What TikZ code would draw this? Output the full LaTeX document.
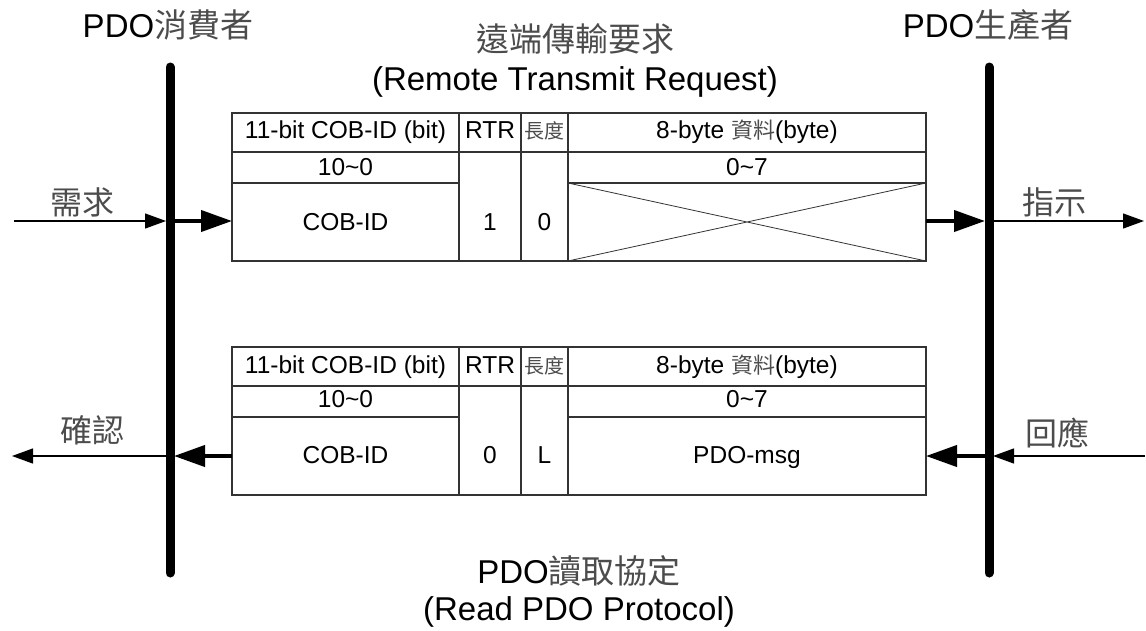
\documentclass[tikz,border=0pt]{standalone}
\usepackage{fontspec}
\setmainfont{Liberation Sans}
\newfontfamily\cjk{Noto Sans CJK TC}
\usetikzlibrary{arrows.meta}
\definecolor{cjkgray}{gray}{0.3}
\definecolor{linegray}{gray}{0.2}
\newcommand\cj[1]{{\cjk\color{cjkgray}#1}}
\newcommand\frametable{%
  \draw[tbl] (232,113) rectangle (926,261);
  \draw[tbl] (232,152) -- (926,152);
  \draw[tbl] (232,183) -- (459,183) (568,183) -- (926,183);
  \draw[tbl] (459,113) -- (459,261) (521,113) -- (521,261) (568,113) -- (568,261);
}
\begin{document}
\begin{tikzpicture}[x=1pt,y=-1pt,
  tbl/.style={draw=linegray, line width=1.3pt},
  lbl/.style={inner sep=0pt, anchor=base, font=\fontsize{24.5}{28}\selectfont},
  small/.style={inner sep=0pt, anchor=base, font=\fontsize{20}{23}\selectfont},
  title/.style={inner sep=0pt, anchor=base, font=\fontsize{33}{38}\selectfont},
  side/.style={inner sep=0pt, anchor=base, font=\fontsize{32}{36}\selectfont},
  bar/.style={line width=9pt, line cap=round},
  thickarrow/.style={line width=4pt, -{Triangle[length=31pt,width=21pt]}},
  thinarrow/.style={line width=1.2pt, -{Triangle[length=21pt,width=15pt]}}]
\useasboundingbox (0,0) rectangle (1146,630);

% bars
\coordinate (consTop) at (170,67);
\coordinate (consBot) at (170,573);
\coordinate (prodTop) at (989,67);
\coordinate (prodBot) at (989,573);
\draw[bar] (consTop) -- (consBot);
\draw[bar] (prodTop) -- (prodBot);

% titles
\node[title] (tcons) at (168,37) {PDO\cj{消費者}};
\node[title] (tprod) at (988,37) {PDO\cj{生產者}};
\node[title] (trtr) at (575,51) {\cj{遠端傳輸要求}};
\node[title] (trtren) at (575,90) {(Remote Transmit Request)};
\node[title] (tread) at (579,583) {PDO\cj{讀取協定}};
\node[title] (treaden) at (579,620) {(Read PDO Protocol)};

% table 1
\frametable
\draw[draw=linegray, line width=0.8pt] (568,183) -- (926,261) (568,261) -- (926,183);
\node[lbl] (a11) at (345.5,138) {11-bit COB-ID (bit)};
\node[lbl] (a12) at (490,138) {RTR};
\node[small] (a13) at (544.5,138) {\cj{長度}};
\node[lbl] (a14) at (747,138) {8-byte \cj{\fontsize{22}{25}\selectfont 資料}(byte)};
\node[lbl] (a21) at (345.5,175) {10\textasciitilde 0};
\node[lbl] (a24) at (747,175) {0\textasciitilde 7};
\node[lbl] (a31) at (345.5,230) {COB-ID};
\node[lbl] (a32) at (490,230) {1};
\node[lbl] (a33) at (544.5,230) {0};

% table 2
\begin{scope}[shift={(0,234)}]
\frametable
\end{scope}
\node[lbl] (b11) at (345.5,373) {11-bit COB-ID (bit)};
\node[lbl] (b12) at (490,373) {RTR};
\node[small] (b13) at (544.5,373) {\cj{長度}};
\node[lbl] (b14) at (747,373) {8-byte \cj{\fontsize{22}{25}\selectfont 資料}(byte)};
\node[lbl] (b21) at (345.5,407) {10\textasciitilde 0};
\node[lbl] (b24) at (747,407) {0\textasciitilde 7};
\node[lbl] (b31) at (345.5,463) {COB-ID};
\node[lbl] (b32) at (490,463) {0};
\node[lbl] (b33) at (544.5,463) {L};
\node[lbl] (b34) at (747,463) {PDO-msg};

% arrow end points
\coordinate (reqStart) at (14,221);
\coordinate (consInL1) at (166,221);
\coordinate (consOutR1) at (174,221);
\coordinate (tab1L) at (232,221);
\coordinate (tab1R) at (926,221);
\coordinate (prodInL1) at (985,221);
\coordinate (prodOutR1) at (993,221);
\coordinate (indEnd) at (1144,221);

\coordinate (cfmEnd) at (12,456);
\coordinate (consOutL2) at (166,456);
\coordinate (consInR2) at (174,456);
\coordinate (tab2L) at (232,456);
\coordinate (tab2R) at (926,456);
\coordinate (prodOutL2) at (985,456);
\coordinate (prodInR2) at (993,456);
\coordinate (rspStart) at (1145,456);

% arrows, top
\draw[thinarrow] (reqStart) -- (consInL1);
\draw[thickarrow] (consOutR1) -- (tab1L);
\draw[thickarrow] (tab1R) -- (prodInL1);
\draw[thinarrow] (prodOutR1) -- (indEnd);
% arrows, bottom
\draw[thinarrow] (consOutL2) -- (cfmEnd);
\draw[thickarrow] (tab2L) -- (consInR2);
\draw[thickarrow] (prodOutL2) -- (tab2R);
\draw[thinarrow] (rspStart) -- (prodInR2);

% side labels
\node[side] (lreq) at (82,214) {\cj{需求}};
\node[side] (lind) at (1054,214) {\cj{指示}};
\node[side] (lcfm) at (92,442) {\cj{確認}};
\node[side] (lrsp) at (1057,445) {\cj{回應}};
\end{tikzpicture}
\end{document}
